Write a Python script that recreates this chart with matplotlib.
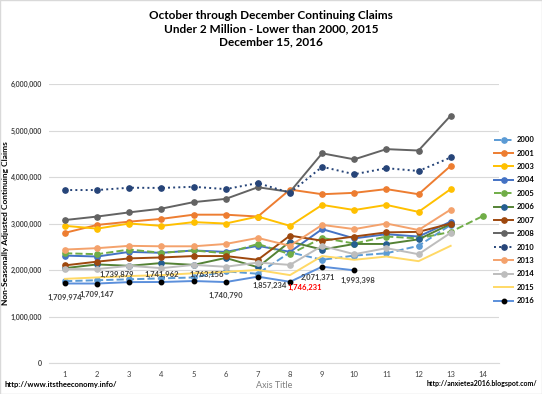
import matplotlib.pyplot as plt
from matplotlib.patches import Rectangle

plt.rcParams['font.family'] = ['Lato', 'DejaVu Sans']

# week number within Oct-Dec
weeks = list(range(1, 15))

# continuing claims (millions)
y2000 = [1.76, 1.78, 1.80, 1.82, 1.84, 1.97, 1.92, 2.38, 2.22, 2.31, 2.36, 2.52, 2.97]
y2001 = [2.80, 2.97, 3.04, 3.10, 3.19, 3.19, 3.15, 3.73, 3.63, 3.66, 3.74, 3.63, 4.24]
y2003 = [2.95, 2.89, 3.00, 2.95, 3.03, 3.00, 3.15, 2.95, 3.40, 3.29, 3.40, 3.25, 3.74]
y2004 = [2.31, 2.29, 2.39, 2.37, 2.42, 2.39, 2.52, 2.39, 2.88, 2.68, 2.77, 2.72, 3.04]
y2005 = [2.36, 2.34, 2.44, 2.37, 2.42, 2.36, 2.56, 2.34, 2.69, 2.57, 2.72, 2.68, 2.82, 3.16]
y2006 = [2.04, 2.12, 2.09, 2.15, 2.11, 2.26, 2.06, 2.61, 2.44, 2.56, 2.56, 2.66, 2.99]
y2007 = [2.10, 2.18, 2.25, 2.27, 2.30, 2.30, 2.22, 2.74, 2.63, 2.72, 2.81, 2.82, 3.00]
y2008 = [3.075, 3.15, 3.24, 3.32, 3.46, 3.53, 3.78, 3.68, 4.51, 4.38, 4.60, 4.57, 5.32]
y2010 = [3.72, 3.72, 3.77, 3.765, 3.79, 3.74, 3.87, 3.66, 4.22, 4.06, 4.19, 4.13, 4.42]
y2013 = [2.44, 2.47, 2.52, 2.51, 2.51, 2.56, 2.69, 2.52, 2.97, 2.88, 3.00, 2.86, 3.30]
y2014 = [2.02, 2.02, 2.09, 2.04, 2.11, 2.07, 2.16, 2.11, 2.52, 2.34, 2.47, 2.34, 2.80]
y2015 = [1.81, 1.84, 1.87, 1.89, 1.93, 1.96, 2.00, 1.89, 2.30, 2.22, 2.29, 2.19, 2.52]
y2016 = [1709974, 1709147, 1739879, 1741962, 1763156, 1740790, 1857234, 1746231, 2071371, 1993398]

# (label, values, color, linestyle, marker color or None)
series = [
    ('2000', y2000, '#5B9BD5', '--', '#5B9BD5'),
    ('2001', y2001, '#ED7D31', '-', '#ED7D31'),
    ('2003', y2003, '#FFC000', '-', '#FFC000'),
    ('2004', y2004, '#4472C4', '-', '#4472C4'),
    ('2005', y2005, '#70AD47', '--', '#70AD47'),
    ('2006', y2006, '#548235', '-', '#255E91'),
    ('2007', y2007, '#9E480E', '-', '#9E480E'),
    ('2008', y2008, '#636363', '-', '#636363'),
    ('2010', y2010, '#264478', ':', '#264478'),
    ('2013', y2013, '#F4A26C', '-', '#F4A26C'),
    ('2014', y2014, '#BDBDBD', '-', '#BDBDBD'),
    ('2015', y2015, '#FFD966', '-', None),
]

fig = plt.figure(figsize=(5.42, 3.94), dpi=100)
fig.patches.append(Rectangle((0, 0), 1, 1, transform=fig.transFigure,
                             fill=False, edgecolor='#D9D9D9', lw=1))
ax = fig.add_axes([0.0904, 0.0787, 0.830, 0.708])

for name, vals, col, ls, mcol in series:
    xs = weeks[:len(vals)]
    ys = [v * 1e6 for v in vals]
    if mcol:
        ax.plot(xs, ys, color=col, ls=ls, lw=1.4, marker='o', markersize=3.8,
                markerfacecolor=mcol, markeredgecolor=mcol, label=name)
    else:
        ax.plot(xs, ys, color=col, ls=ls, lw=1.4, label=name)

x16 = weeks[:len(y2016)]
ax.plot(x16, y2016, color='#5B8FDB', lw=1.4, marker='o', markersize=3.2,
        markerfacecolor='black', markeredgecolor='black', label='2016')

# data label offsets in pixels (dx, dy)
offsets = [(0, -14), (0, -11), (-13, 8), (0, 8), (13, 7),
           (0, -13), (12, -9), (15, -6), (-4, -11), (4, -10)]
for x, v, (dx, dy) in zip(x16, y2016, offsets):
    c = '#FF0000' if v == 1746231 else '#404040'
    ax.annotate(f'{v:,}', (x, v), xytext=(dx, dy), textcoords='offset pixels',
                ha='center', va='center', fontsize=5.5, fontweight='bold', color=c)

ax.set_xlim(0.5, 14.5)
ax.set_ylim(0, 6e6)
ax.set_xticks(weeks)
ax.set_yticks(range(0, 6000001, 1000000))
ax.yaxis.set_major_formatter(plt.FuncFormatter(lambda v, p: f'{int(v):,}'))
ax.grid(axis='y', color='#D9D9D9', lw=0.8)
ax.set_axisbelow(True)
for s in ['top', 'right', 'left']:
    ax.spines[s].set_visible(False)
ax.spines['bottom'].set_color('#D9D9D9')
ax.tick_params(length=0, labelsize=5.5, colors='#404040')
ax.tick_params(axis='y', pad=5, labelsize=5)
for t in ax.get_yticklabels():
    t.set_fontweight('bold')
ax.tick_params(axis='x', pad=6)

ax.set_xlabel('Axis Title', fontsize=6.5, color='#808080', labelpad=2)
ax.set_ylabel('Non-Seasonally Adjusted Continuing Claims', fontsize=6,
              fontweight='bold')
ax.yaxis.set_label_coords(-0.09, 0.5)

fig.text(0.5, 0.975, 'October through December Continuing Claims\n'
         'Under 2 Million - Lower than 2000, 2015\nDecember 15, 2016',
         ha='center', va='top', fontsize=8.5, fontweight='bold', linespacing=1.25)
fig.text(0.008, 0.015, 'http://www.itstheeconomy.info/', fontsize=5.5,
         fontweight='bold', ha='left', va='bottom')
fig.text(0.992, 0.018, 'http://anxietea2016.blogspot.com/', fontsize=5,
         fontweight='bold', ha='right', va='bottom')

fig.legend(loc='upper left', bbox_to_anchor=(0.905, 0.664), frameon=False,
           handlelength=2.5, labelspacing=0.84, handletextpad=0.4,
           borderpad=0, prop={'weight': 'bold', 'size': 5.5})

fig.savefig('out.png', dpi=100)
